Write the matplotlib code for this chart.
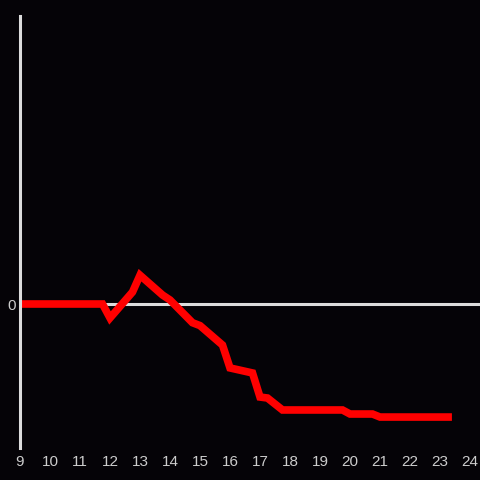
import matplotlib
matplotlib.use("Agg")
import matplotlib.pyplot as plt

hours = [9.0, 11.75, 12.0, 12.75, 13.0, 13.75, 14.0, 14.75, 15.0, 15.75, 16.0,
         16.75, 17.0, 17.25, 17.75, 19.75, 20.0, 20.75, 21.0, 23.27]
values = [0.0, 0.0, -0.097, 0.083, 0.20, 0.0625, 0.028, -0.13, -0.15, -0.285, -0.444,
          -0.479, -0.646, -0.653, -0.736, -0.736, -0.764, -0.764, -0.785, -0.785]
xticks = list(range(9, 25))
yticks = [0]

bg = "#050307"
fig = plt.figure(figsize=(4.8, 4.8), dpi=100, facecolor=bg)
ax = fig.add_axes([20/480, 32/480, 460/480, 432/480], facecolor=bg)
ax.set_xlim(9, 9 + 460/30)
ax.set_ylim(-1, 2)
ax.axhline(0, color="#dcdcdc", lw=2.2, zorder=1)
ax.plot(hours, values, color="#ff0000", lw=5.5, solid_joinstyle="miter", zorder=2)
for s in ["top", "right", "bottom"]:
    ax.spines[s].set_visible(False)
ax.spines["left"].set_color("#dcdcdc")
ax.spines["left"].set_linewidth(2.2)
ax.set_xticks(xticks)
ax.set_xticklabels([str(t) for t in xticks])
ax.set_yticks(yticks)
ax.set_yticklabels(["0"])
ax.tick_params(axis="both", length=0, colors="#cccccc", labelsize=11)
ax.tick_params(axis="x", pad=5)
ax.tick_params(axis="y", pad=3)
for lab in ax.get_xticklabels() + ax.get_yticklabels():
    lab.set_family("Liberation Sans")
fig.savefig("out.png", dpi=100, facecolor=bg)
